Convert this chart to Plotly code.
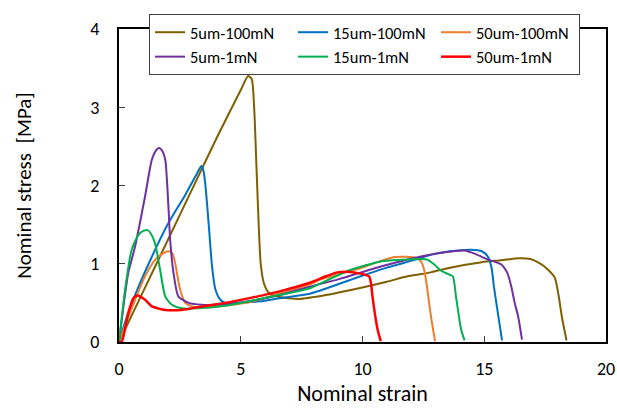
import plotly.graph_objects as go

# ---- data ----
names = ["5um-100mN", "15um-100mN", "50um-100mN", "5um-1mN", "15um-1mN", "50um-1mN"]
colors = ["#7F6000", "#0070C0", "#ED7D31", "#7030A0", "#00B050", "#FF0000"]

x_5um_100mN = [0, 1, 2, 3, 4, 5, 5.3, 5.45, 5.55, 5.65, 5.75, 5.82, 5.95, 6.15, 6.6, 7.4, 8.5, 9.9,
               11, 11.85, 12.8, 13.6, 14.9, 15.7, 16.4, 16.9, 17.25, 17.6, 17.9, 18.05, 18.2, 18.38]
y_5um_100mN = [0, 0.65, 1.3, 1.95, 2.6, 3.22, 3.40, 3.36, 3.0, 2.2, 1.4, 1.0, 0.75, 0.63, 0.575, 0.55, 0.6, 0.69,
               0.77, 0.84, 0.89, 0.95, 1.02, 1.045, 1.07, 1.06, 1.01, 0.93, 0.82, 0.6, 0.3, 0.02]

x_15um_100mN = [0, 0.3, 0.66, 1.35, 2.03, 2.72, 3.2, 3.38, 3.46, 3.54, 3.68, 3.82, 3.96, 4.16, 4.37, 4.71, 5.8,
                6.6, 7.87, 9.93, 11, 12.13, 12.81, 13.6, 14.46, 14.9, 15.15, 15.3, 15.4, 15.56, 15.73]
y_15um_100mN = [0, 0.3, 0.6, 1.09, 1.52, 1.88, 2.15, 2.25, 2.2, 2.03, 1.52, 0.97, 0.67, 0.54, 0.5, 0.50, 0.52,
                0.56, 0.62, 0.84, 0.95, 1.05, 1.115, 1.16, 1.18, 1.16, 1.09, 0.95, 0.7, 0.37, 0.02]

x_50um_100mN = [0, 0.3, 0.66, 1.07, 1.48, 1.8, 2.03, 2.18, 2.3, 2.38, 2.51, 2.72, 3.0, 3.5, 4.5, 5.5, 6.6, 7.87,
                8.28, 9.93, 10.7, 11.3, 11.8, 12.15, 12.4, 12.55, 12.65, 12.81, 12.98]
y_50um_100mN = [0, 0.25, 0.54, 0.84, 1.05, 1.13, 1.16, 1.14, 1.02, 0.88, 0.67, 0.50, 0.455, 0.44, 0.47, 0.52,
                0.62, 0.74, 0.80, 0.945, 1.03, 1.085, 1.09, 1.08, 1.03, 0.9, 0.7, 0.33, 0.01]

x_5um_1mN = [0, 0.18, 0.38, 0.66, 1.07, 1.35, 1.55, 1.66, 1.78, 1.9, 2.03, 2.1, 2.24, 2.44, 2.86, 3.4, 4.44,
             5.5, 6.6, 7.87, 9.0, 10.75, 12.5, 13.64, 14.19, 14.6, 15.1, 15.7, 15.95, 16.11, 16.25, 16.39, 16.55]
y_5um_1mN = [0, 0.45, 0.88, 1.22, 1.86, 2.33, 2.46, 2.48, 2.44, 2.33, 1.73, 1.31, 0.88, 0.58, 0.50, 0.476, 0.485,
             0.53, 0.6, 0.71, 0.8, 0.965, 1.1, 1.157, 1.17, 1.13, 1.06, 0.99, 0.88, 0.71, 0.5, 0.33, 0.03]

x_15um_1mN = [0, 0.25, 0.52, 0.8, 1.0, 1.17, 1.3, 1.48, 1.69, 1.9, 2.17, 2.58, 3.2, 4.5, 5.5, 6.6, 7.87, 8.28,
              9.5, 10.75, 11.6, 12.4, 12.68, 12.95, 13.23, 13.5, 13.71, 13.84, 14.05, 14.19]
y_15um_1mN = [0, 0.67, 1.18, 1.37, 1.42, 1.43, 1.39, 1.26, 0.92, 0.58, 0.476, 0.43, 0.43, 0.47, 0.53, 0.6, 0.69,
              0.75, 0.92, 1.03, 1.05, 1.06, 1.05, 0.99, 0.91, 0.87, 0.84, 0.58, 0.16, 0.02]

x_50um_1mN = [0, 0.11, 0.38, 0.59, 0.77, 1.07, 1.35, 1.9, 2.58, 3.4, 4.37, 5.5, 6.63, 7.87, 8.5, 8.97, 9.5,
              9.8, 10.1, 10.27, 10.35, 10.41, 10.62, 10.75]
y_50um_1mN = [0, 0.0, 0.37, 0.56, 0.595, 0.54, 0.455, 0.41, 0.41, 0.455, 0.5, 0.57, 0.65, 0.76, 0.84, 0.89,
              0.895, 0.88, 0.86, 0.84, 0.75, 0.58, 0.16, 0.01]

xs = [x_5um_100mN, x_15um_100mN, x_50um_100mN, x_5um_1mN, x_15um_1mN, x_50um_1mN]
ys = [y_5um_100mN, y_15um_100mN, y_50um_100mN, y_5um_1mN, y_15um_1mN, y_50um_1mN]
widths = [2, 2, 2, 2, 2, 2.5]

x_ticks = [0, 5, 10, 15, 20]
y_ticks = [0, 1, 2, 3, 4]

FONT = "Calibri, Carlito, Lato, sans-serif"

fig = go.Figure()
for n, c, x, y, w in zip(names, colors, xs, ys, widths):
    fig.add_trace(go.Scatter(x=x, y=y, name=n, mode="lines",
                             line=dict(color=c, width=w, shape="spline", smoothing=0.6)))

fig.update_layout(
    width=617, height=408,
    margin=dict(l=119, r=11, t=29, b=66, autoexpand=False),
    paper_bgcolor="white", plot_bgcolor="white",
    font=dict(family=FONT, size=18, color="black"),
    showlegend=True,
    legend=dict(orientation="h", x=0.0616, y=1.048, xanchor="left", yanchor="top",
                bgcolor="white", bordercolor="#404040", borderwidth=1,
                entrywidth=98, font=dict(family=FONT, size=16.5),
                itemwidth=30, traceorder="normal"),
)
fig.update_xaxes(range=[0, 20], tickvals=x_ticks, ticks="inside", ticklen=6, tickwidth=1,
                 tickcolor="#404040", showline=True, linecolor="black", linewidth=2, mirror=True,
                 showgrid=False, zeroline=False, ticklabelstandoff=9, automargin=False,
                 tickfont=dict(size=18),
                 title=dict(text="Nominal strain", font=dict(size=22), standoff=6))
fig.update_yaxes(range=[0, 4], tickvals=y_ticks, ticks="inside", ticklen=6, tickwidth=1,
                 tickcolor="#404040", showline=True, linecolor="black", linewidth=2, mirror=True,
                 showgrid=False, zeroline=False, ticklabelstandoff=14, automargin=False,
                 tickfont=dict(size=18),
                 title=dict(text="Nominal stress\u00a0 [MPa]", font=dict(size=21), standoff=53))

fig.write_html("out.html")
